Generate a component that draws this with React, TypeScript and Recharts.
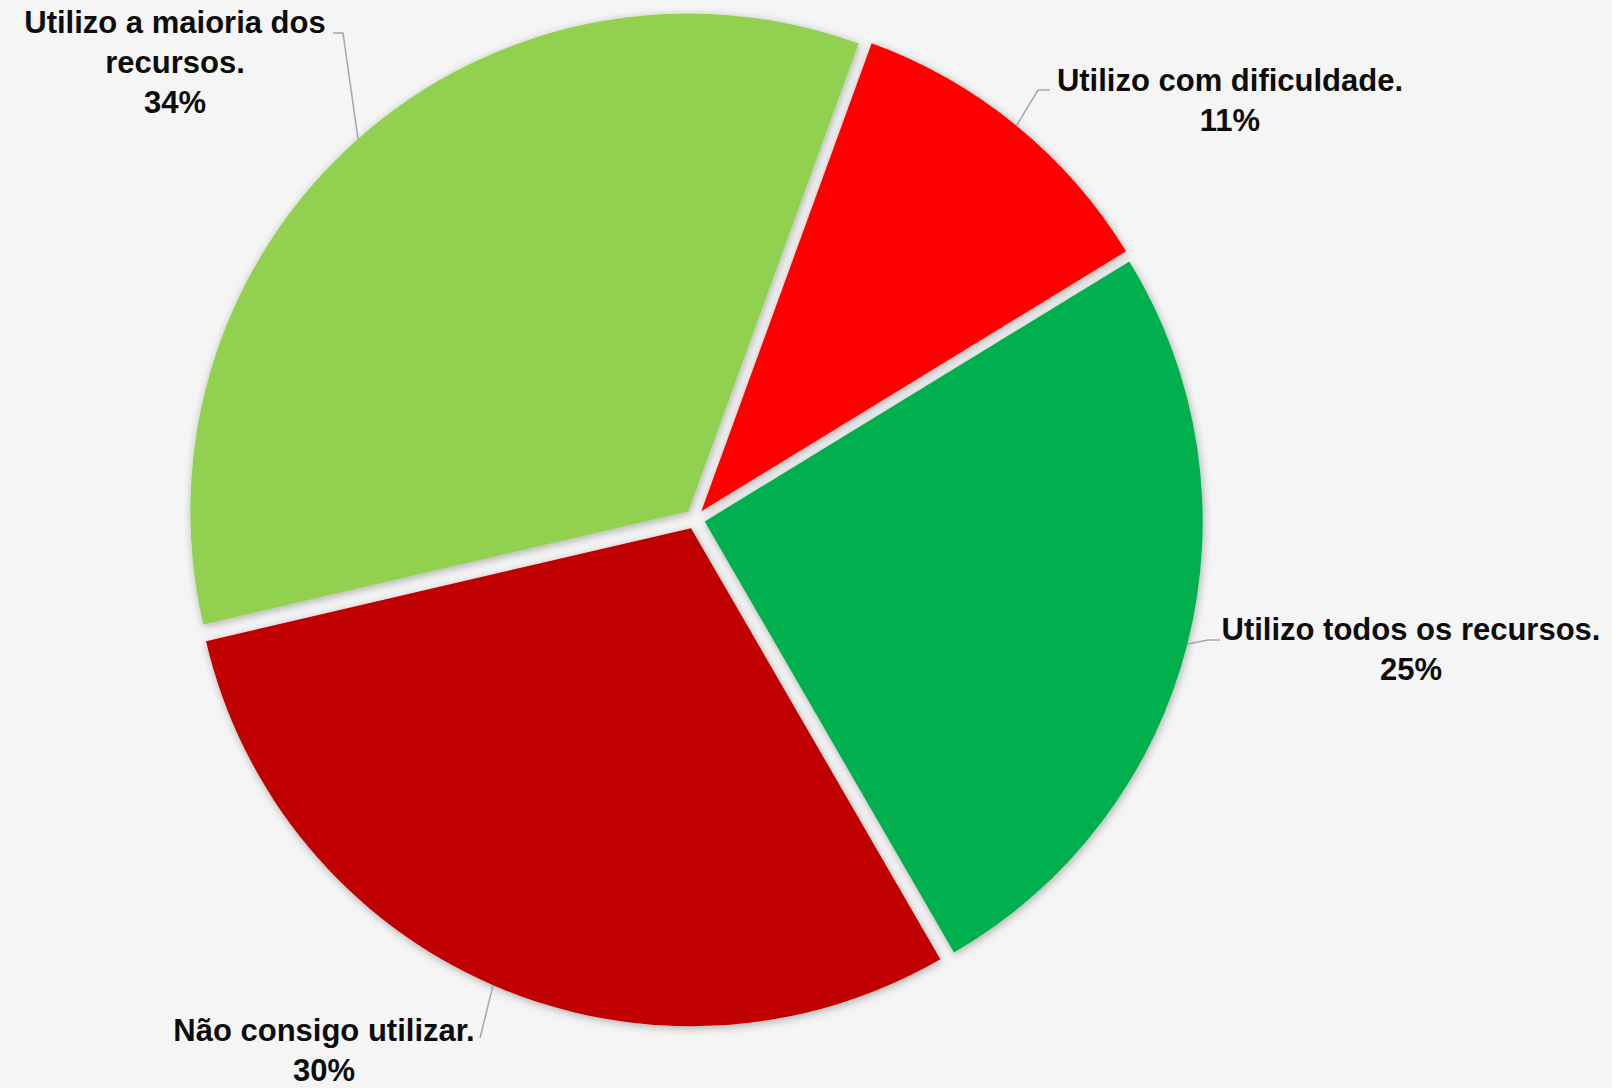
import React from 'react'
import { PieChart, Pie, Cell } from 'recharts'

// slices, clockwise from the top-right
const categories = [
  'Utilizo com dificuldade.',
  'Utilizo todos os recursos.',
  'Não consigo utilizar.',
  'Utilizo a maioria dos recursos.',
]
const values = [10.7, 25.4, 29.7, 34.2]
const colors = ['#FF0000', '#00B050', '#C00000', '#92D050']

const W = 1612
const H = 1088
const CX = 695
const CY = 519
const R = 498
const EXPLODE = 10
const START = 70
const END = START - 360
const RAD = Math.PI / 180

// where each data label sits (first line baseline) and how its leader bends
const labelLayout = [
  { x: 1230, y: 91, elbow: [1038, 90], end: [1050, 90] },
  { x: 1411, y: 640, elbow: [1208, 640], end: [1220, 640] },
  { x: 324, y: 1041, elbow: [480, 1038], end: [480, 1038] },
  { x: 175, y: 33, elbow: [343, 33], end: [333, 33] },
]

const data = categories.map((name, i) => ({ name, value: values[i] }))
const total = values.reduce((s, v) => s + v, 0)

const midAngles = values.map((v, i) => {
  const before = values.slice(0, i).reduce((s, x) => s + x, 0)
  return START - (360 * (before + v / 2)) / total
})

const wrap = (text: string) => {
  if (text.length <= 28) return [text]
  const cut = text.lastIndexOf(' ', 22)
  return [text.slice(0, cut), text.slice(cut + 1)]
}

const makeLabel = (k: number) => (props: any) => {
  if (props.index !== k) return null
  const { cx, cy, midAngle, outerRadius } = props
  const sx = cx + outerRadius * Math.cos(-midAngle * RAD)
  const sy = cy + outerRadius * Math.sin(-midAngle * RAD)
  const lay = labelLayout[k]
  const pct = Math.round((values[k] / total) * 100) + '%'
  const lines = [...wrap(categories[k]), pct]
  return (
    <g key={`lbl-${k}`}>
      <polyline
        points={`${sx},${sy} ${lay.elbow[0]},${lay.elbow[1]} ${lay.end[0]},${lay.end[1]}`}
        fill="none"
        stroke="#A6A6A6"
        strokeWidth={1.5}
      />
      <text
        x={lay.x}
        y={lay.y}
        textAnchor="middle"
        fill="#0D0D0D"
        style={{ fontFamily: '"Liberation Sans", Arial, sans-serif', fontWeight: 700, fontSize: 31 }}
      >
        {lines.map((ln, j) => (
          <tspan key={j} x={lay.x} y={lay.y + j * 40}>
            {ln}
          </tspan>
        ))}
      </text>
    </g>
  )
}

export default function App() {
  return (
    <div style={{ position: 'absolute', left: 0, top: 0, width: W, height: H, background: '#F5F5F5' }}>
      <svg width={0} height={0} style={{ position: 'absolute' }}>
        <defs>
          <filter id="sliceShadow" x="-10%" y="-10%" width="120%" height="120%">
            <feDropShadow dx={1} dy={2} stdDeviation={4} floodColor="#000" floodOpacity={0.3} />
          </filter>
        </defs>
      </svg>
      <PieChart width={W} height={H} margin={{ top: 0, right: 0, bottom: 0, left: 0 }}>
        {data.map((_, k) => (
          <Pie
            key={k}
            data={data}
            dataKey="value"
            nameKey="name"
            cx={CX + EXPLODE * Math.cos(midAngles[k] * RAD)}
            cy={CY - EXPLODE * Math.sin(midAngles[k] * RAD)}
            outerRadius={R}
            startAngle={START}
            endAngle={END}
            stroke="none"
            labelLine={false}
            label={makeLabel(k)}
            isAnimationActive={false}
          >
            {data.map((_, i) => (
              <Cell
                key={`cell-${i}`}
                fill={i === k ? colors[i] : 'transparent'}
                filter={i === k ? 'url(#sliceShadow)' : undefined}
              />
            ))}
          </Pie>
        ))}
      </PieChart>
    </div>
  )
}
